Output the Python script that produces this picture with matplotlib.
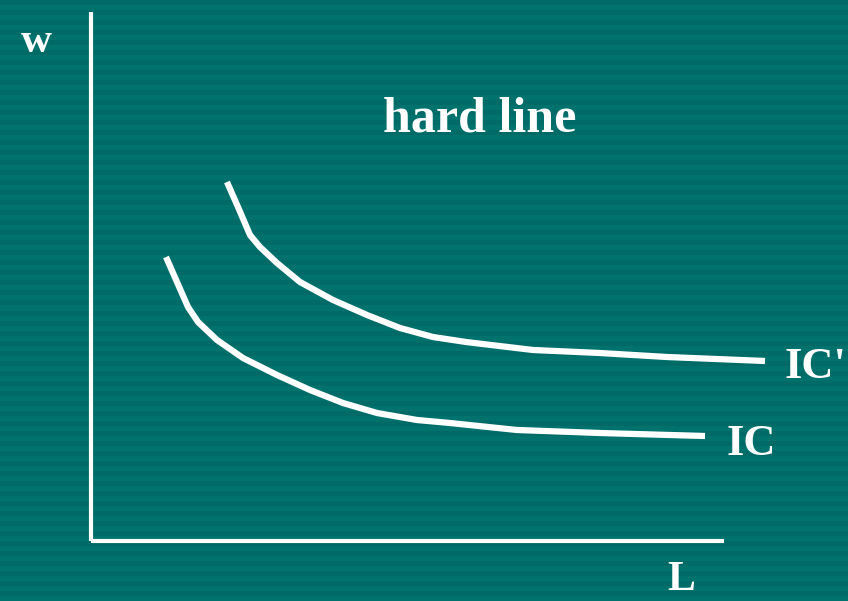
import numpy as np
from matplotlib import pyplot as plt
from matplotlib.colors import ListedColormap

# indifference curves
L_icp = [136, 147, 159, 169, 186, 209, 242, 276, 309, 342, 375, 442, 509, 576, 674]
w_icp = [359, 334, 306, 294, 278, 259, 241, 226, 213, 204, 199, 191, 188, 184, 180]
L_ic = [75, 86, 97, 107, 126, 152, 186, 219, 252, 286, 326, 359, 426, 509, 614]
w_ic = [284, 259, 234, 219, 201, 183, 166, 151, 138, 128, 121, 118, 111, 108, 105]

plt.rcParams['font.family'] = ['Liberation Serif', 'DejaVu Serif']

fig = plt.figure(figsize=(8.48, 6.01), dpi=100)

# striped background
bg = fig.add_axes([0, 0, 1, 1])
stripes = np.array([[0], [1]] * 60)
bg.imshow(stripes, cmap=ListedColormap(['#006a66', '#00726d']),
          aspect='auto', interpolation='nearest', extent=[0, 1, 0, 1])
bg.axis('off')

ax = fig.add_axes([0, 0, 1, 1])
ax.set_xlim(-91, 757)
ax.set_ylim(-60, 541)
ax.axis('off')

# axes
ax.plot([0, 0], [0, 529], color='white', lw=3, solid_capstyle='butt')
ax.plot([0, 633], [0, 0], color='white', lw=3, solid_capstyle='butt')

# curves
ax.plot(L_icp, w_icp, color='white', lw=4.5, solid_capstyle='butt', solid_joinstyle='round')
ax.plot(L_ic, w_ic, color='white', lw=4.5, solid_capstyle='butt', solid_joinstyle='round')

ax.text(-55, 499, 'w', color='white', fontsize=31, fontweight='bold', ha='center', va='center')
ax.text(389, 421, 'hard line', color='white', fontsize=36, fontweight='bold', ha='center', va='center')
ax.text(694, 174, "IC'", color='white', fontsize=32, fontweight='bold', ha='left', va='center')
ax.text(635, 97, 'IC', color='white', fontsize=32, fontweight='bold', ha='left', va='center')
ax.text(590, -39, 'L', color='white', fontsize=30, fontweight='bold', ha='center', va='center')

plt.savefig('out.png', dpi=100)
